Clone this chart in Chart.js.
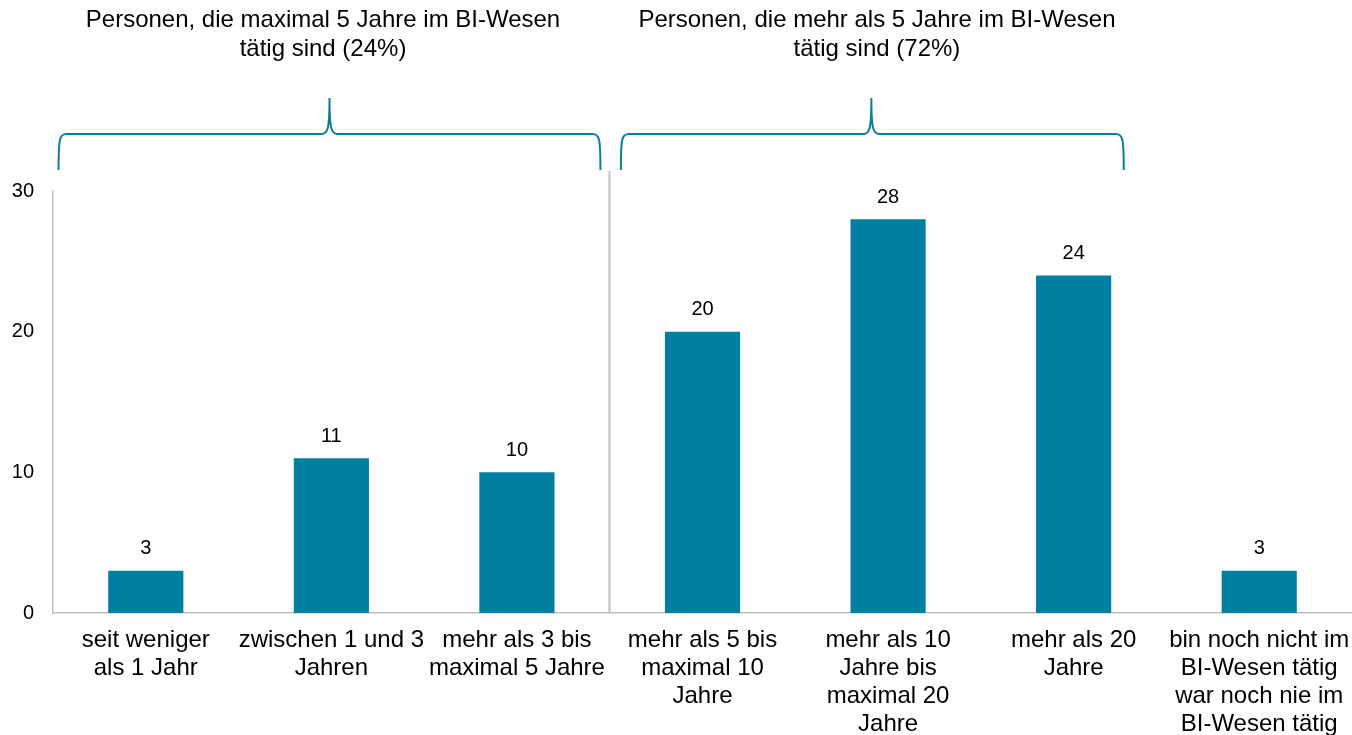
<!DOCTYPE html>
<html>
<head>
<meta charset="utf-8">
<script src="https://cdn.jsdelivr.net/npm/chart.js@4"></script>
<style>
  body { margin: 0; background: #fff; }
  #wrap { width: 1352px; height: 735px; }
</style>
</head>
<body>
<div id="wrap"><canvas id="chart"></canvas></div>
<script>
const categories = [
  ["seit weniger", "als 1 Jahr"],
  ["zwischen 1 und 3", "Jahren"],
  ["mehr als 3 bis", "maximal 5 Jahre"],
  ["mehr als 5 bis", "maximal 10", "Jahre"],
  ["mehr als 10", "Jahre bis", "maximal 20", "Jahre"],
  ["mehr als 20", "Jahre"],
  ["bin noch nicht im", "BI-Wesen tätig", "war noch nie im", "BI-Wesen tätig"]
];
const values = [3, 11, 10, 20, 28, 24, 3];
const yTicks = [0, 10, 20, 30];

// group braces above the bars (in category units)
const groupTitles = [
  ["Personen, die maximal 5 Jahre im BI-Wesen", "tätig sind (24%)"],
  ["Personen, die mehr als 5 Jahre im BI-Wesen", "tätig sind (72%)"]
];
const groupSpans = [[-0.47, 2.45, 0.99], [2.56, 5.27, 3.91]];
const titleCenters = [0.955, 3.94];
const dividerAt = 2.5;

const teal = "#007fa0";
const axisGray = "#bfbfbf";
const font = "'Liberation Sans', Arial, sans-serif";

const extras = {
  id: "extras",
  afterDatasetsDraw(chart) {
    const { ctx, chartArea, scales } = chart;
    const x = scales.x;
    ctx.save();

    // value labels
    ctx.fillStyle = "#000";
    ctx.font = "20px " + font;
    ctx.textAlign = "center";
    ctx.textBaseline = "bottom";
    const meta = chart.getDatasetMeta(0);
    meta.data.forEach((bar, i) => {
      ctx.fillText(values[i], bar.x, bar.y - 12);
    });

    // divider between groups
    const dx = Math.round(x.getPixelForValue(dividerAt)) - 0.5;
    ctx.strokeStyle = axisGray;
    ctx.lineWidth = 2;
    ctx.beginPath();
    ctx.moveTo(dx, chartArea.top - 20);
    ctx.lineTo(dx, chartArea.bottom);
    ctx.stroke();

    // braces
    ctx.strokeStyle = "#0e7c9a";
    ctx.lineWidth = 2;
    const yb = chartArea.top - 21, ym = chartArea.top - 57, yt = chartArea.top - 93;
    groupSpans.forEach(([a, b, m], gi) => {
      const x0 = x.getPixelForValue(a), x1 = x.getPixelForValue(b), xm = x.getPixelForValue(m);
      ctx.beginPath();
      ctx.moveTo(x0, yb);
      ctx.bezierCurveTo(x0, ym + 4, x0 + 1, ym, x0 + 8, ym);
      ctx.lineTo(xm - 8, ym);
      ctx.bezierCurveTo(xm - 2, ym, xm, ym - 4, xm, yt);
      ctx.bezierCurveTo(xm, ym - 4, xm + 2, ym, xm + 8, ym);
      ctx.lineTo(x1 - 8, ym);
      ctx.bezierCurveTo(x1 - 1, ym, x1, ym + 4, x1, yb);
      ctx.stroke();

      ctx.fillStyle = "#000";
      ctx.font = "24px " + font;
      ctx.textBaseline = "middle";
      const tx = x.getPixelForValue(titleCenters[gi]);
      groupTitles[gi].forEach((line, li) => {
        ctx.fillText(line, tx, 20 + li * 29);
      });
    });
    ctx.restore();
  }
};

new Chart(document.getElementById("chart"), {
  type: "bar",
  data: {
    labels: categories,
    datasets: [{
      data: values,
      backgroundColor: teal,
      categoryPercentage: 1,
      barPercentage: 0.405
    }]
  },
  options: {
    responsive: true,
    maintainAspectRatio: false,
    animation: false,
    layout: { padding: { top: 191, left: 0, right: 0, bottom: 0 } },
    plugins: { legend: { display: false }, tooltip: { enabled: false } },
    scales: {
      x: {
        grid: { display: false, drawTicks: false },
        border: { display: true, color: axisGray, width: 1.5 },
        ticks: {
          color: "#000",
          font: { size: 24, family: font, lineHeight: 1.17 },
          padding: 13,
          maxRotation: 0,
          autoSkip: false
        },
        afterFit(scale) {
          scale.paddingLeft = 0;
          scale.paddingRight = 0;
          scale.height = 735 - 613;
        }
      },
      y: {
        min: 0,
        max: 30,
        afterBuildTicks(axis) { axis.ticks = yTicks.map(v => ({ value: v })); },
        grid: { display: false, drawTicks: false },
        border: { display: true, color: axisGray, width: 1.5 },
        ticks: {
          color: "#000",
          font: { size: 20, family: font },
          padding: 19
        },
        afterFit(scale) {
          scale.width = 53;
          scale.paddingTop = 0;
          scale.paddingBottom = 0;
        }
      }
    }
  },
  plugins: [extras]
});
</script>
</body>
</html>
